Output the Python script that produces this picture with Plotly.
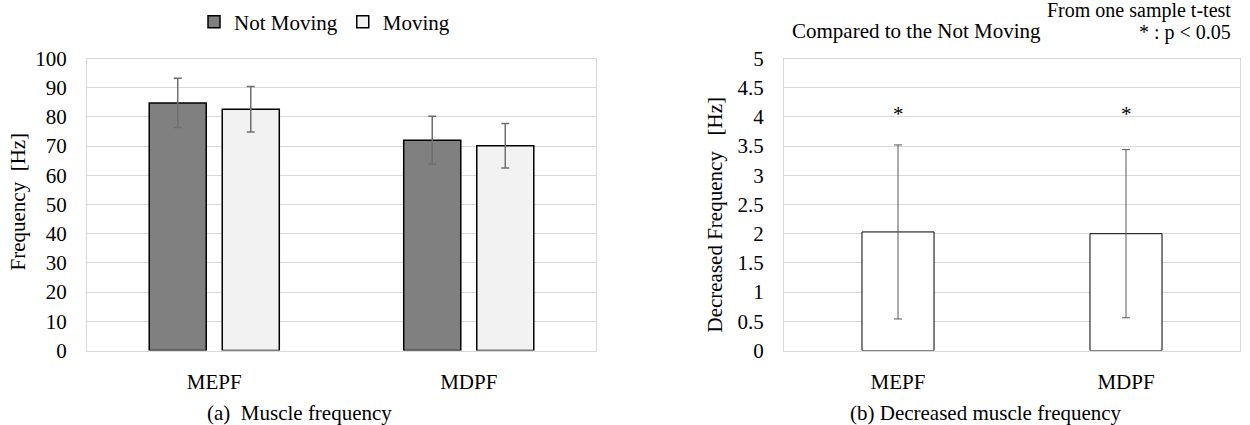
import plotly.graph_objects as go

# ---- data ----
categories = ["MEPF", "MDPF"]
not_moving = [84.8, 72.0]
not_moving_err = [8.4, 8.2]
moving = [82.6, 70.1]
moving_err = [7.8, 7.6]

decreased = [2.03, 2.00]
decreased_err = [1.49, 1.44]
sig_marks = ["*", "*"]
sig_y = [4.05, 4.05]

left_ticks = list(range(0, 101, 10))
right_ticks = [0, 0.5, 1, 1.5, 2, 2.5, 3, 3.5, 4, 4.5, 5]

FONT = "Liberation Serif"
FS = 21
W, H = 1250, 425
NB = "\u00a0"

def px_x(p):
    return p / W

def px_y(p):
    return 1 - p / H

fig = go.Figure()

fig.add_trace(go.Bar(
    x=categories, y=not_moving, name="Not Moving",
    marker=dict(color="#808080", line=dict(color="#000000", width=1.5)),
    error_y=dict(type="data", array=not_moving_err, visible=True,
                 color="#6f6f6f", thickness=1.5, width=4),
    xaxis="x", yaxis="y",
))
fig.add_trace(go.Bar(
    x=categories, y=moving, name="Moving",
    marker=dict(color="#f2f2f2", line=dict(color="#000000", width=1.5)),
    error_y=dict(type="data", array=moving_err, visible=True,
                 color="#6f6f6f", thickness=1.5, width=4),
    xaxis="x", yaxis="y",
))
fig.add_trace(go.Bar(
    x=categories, y=decreased, name="Decreased", showlegend=False,
    width=0.316,
    marker=dict(color="#ffffff", line=dict(color="#000000", width=1)),
    error_y=dict(type="data", array=decreased_err, visible=True,
                 color="#595959", thickness=1, width=4),
    xaxis="x2", yaxis="y2",
))

ydom = [px_y(350.5), px_y(58.5)]
axis_common = dict(
    showline=True, mirror=True, linecolor="#d9d9d9", linewidth=1,
    showgrid=False, zeroline=False, ticks="", automargin=False,
    tickfont=dict(family=FONT, size=FS, color="#000000"),
)
yaxis_common = dict(
    showline=True, mirror=True, linecolor="#d9d9d9", linewidth=1,
    showgrid=True, gridcolor="#d9d9d9", gridwidth=1, zeroline=False, ticks="",
    tickfont=dict(family=FONT, size=FS, color="#000000"),
    ticklabelstandoff=15, automargin=False,
)

fig.update_layout(
    template="none",
    width=W, height=H,
    margin=dict(l=0, r=0, t=0, b=0, pad=0, autoexpand=False),
    paper_bgcolor="#ffffff", plot_bgcolor="#ffffff",
    font=dict(family=FONT, size=FS, color="#000000"),
    barmode="group", bargap=0.426, bargroupgap=0.219,
    xaxis=dict(domain=[px_x(87), px_x(596)], anchor="y",
               range=[-0.5, 1.5], ticklabelstandoff=12, **axis_common),
    yaxis=dict(domain=ydom, anchor="x", range=[0, 100],
               tickvals=left_ticks, **yaxis_common),
    xaxis2=dict(domain=[px_x(784), px_x(1240)], anchor="y2",
                range=[-0.5, 1.5], ticklabelstandoff=12, **axis_common),
    yaxis2=dict(domain=ydom, anchor="x2", range=[0, 5],
                tickvals=right_ticks, **yaxis_common),
    legend=dict(orientation="h", x=px_x(194), xanchor="left",
                y=px_y(22), yanchor="middle",
                font=dict(family=FONT, size=FS, color="#000000"),
                itemwidth=30, bgcolor="rgba(0,0,0,0)"),
    showlegend=True,
)

ann = []
for c, m, yv in zip(categories, sig_marks, sig_y):
    ann.append(dict(x=c, y=yv, xref="x2", yref="y2", text=m, showarrow=False,
                    font=dict(family=FONT, size=FS, color="#000000"),
                    xanchor="center", yanchor="middle"))

note_font = dict(family=FONT, size=20, color="#000000")
ann += [
    dict(x=px_x(17), y=px_y(201.5), xref="paper", yref="paper",
         text="Frequency" + NB * 2 + "[Hz]", textangle=-90, showarrow=False,
         xanchor="center", yanchor="middle"),
    dict(x=px_x(714), y=px_y(214.5), xref="paper", yref="paper",
         text="Decreased Frequency" + NB * 3 + "[Hz]", textangle=-90, showarrow=False,
         xanchor="center", yanchor="middle"),
    dict(x=px_x(299), y=px_y(413), xref="paper", yref="paper",
         text="(a)" + NB * 2 + "Muscle frequency", showarrow=False,
         xanchor="center", yanchor="middle"),
    dict(x=px_x(986), y=px_y(413), xref="paper", yref="paper",
         text="(b) Decreased muscle frequency", showarrow=False,
         xanchor="center", yanchor="middle"),
    dict(x=px_x(1232), y=px_y(10.5), xref="paper", yref="paper",
         text="From one sample t-test", showarrow=False, borderpad=0,
         font=note_font, xanchor="right", yanchor="middle"),
    dict(x=px_x(790), y=px_y(31), xref="paper", yref="paper",
         text="Compared to the Not Moving", showarrow=False,
         xanchor="left", yanchor="middle"),
    dict(x=px_x(1232), y=px_y(33), xref="paper", yref="paper",
         text="* : p < 0.05", showarrow=False, borderpad=0,
         font=note_font, xanchor="right", yanchor="middle"),
]
fig.update_layout(annotations=ann)

fig.write_html("out.html", config={"displayModeBar": False})
